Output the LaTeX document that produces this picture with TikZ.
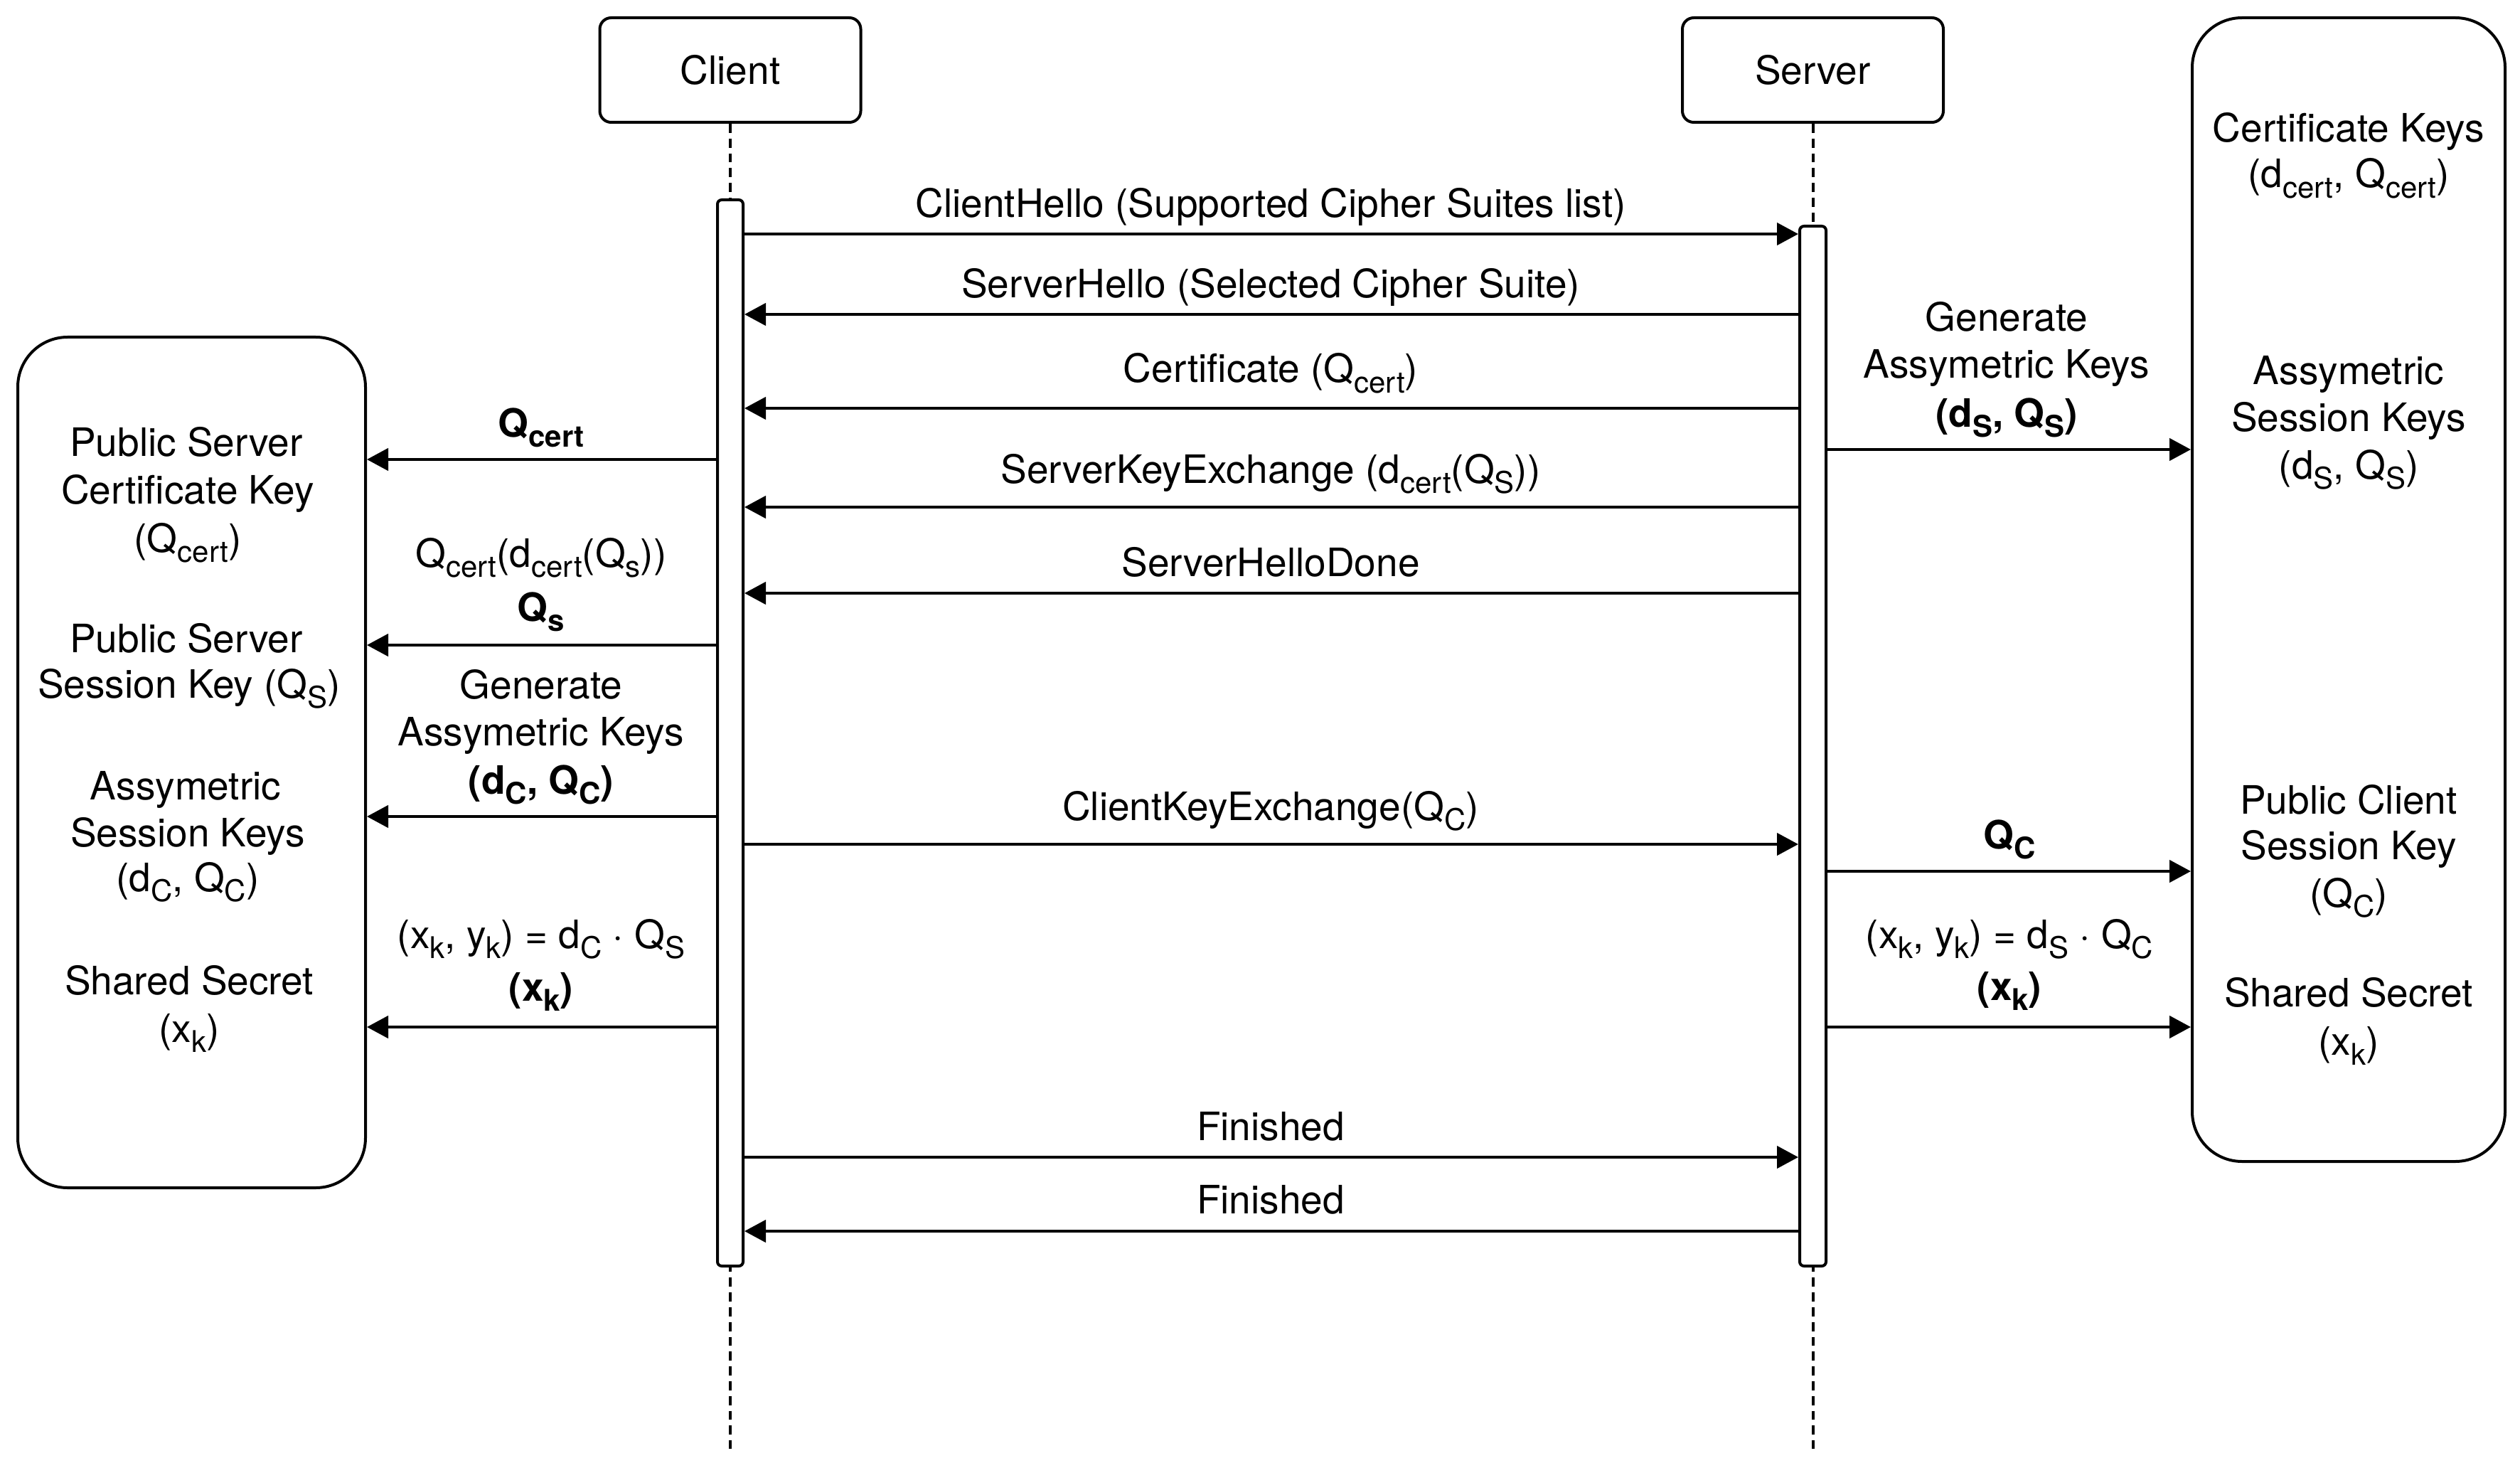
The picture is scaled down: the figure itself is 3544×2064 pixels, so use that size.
\documentclass[tikz,border=0pt]{standalone}
\usepackage{fontspec}
\setmainfont{TeX Gyre Heros}
\usetikzlibrary{arrows.meta}
\newcommand\sbs[1]{\raisebox{-0.27em}{\fontsize{10.5pt}{10.5pt}\selectfont #1}}
\begin{document}
\begin{tikzpicture}[x=0.25pt,y=-0.25pt, line width=1pt,
 every node/.style={font=\fontsize{13.75pt}{17pt}\selectfont},
 txt/.style={anchor=base, inner sep=0pt},
 bld/.style={txt, font=\fontsize{13.75pt}{17pt}\selectfont\bfseries},
 actor/.style={draw, rounded corners=4pt, minimum width=91.75pt, minimum height=36.75pt, inner sep=0pt},
 bar/.style={draw, fill=white, rounded corners=1.5pt, inner sep=0pt, minimum width=9pt},
 store/.style={draw, rounded corners=17.5pt, inner sep=0pt},
 life/.style={dash pattern=on 3.2pt off 2pt},
 msg/.style={-{Triangle[length=7.5pt,width=7.8pt]}},
]
\useasboundingbox (0,0) rectangle (3544,2064);

% actors
\node[actor] (client) at (1027,98.5) {Client};
\node[actor] (server) at (2549.5,98.5) {Server};
\coordinate (cend) at (1027,2037);
\coordinate (send) at (2549.5,2037);
\draw[life] (client.south) -- (cend);
\draw[life] (server.south) -- (send);

% activation bars
\node[bar, minimum height=374.75pt] (cbar) at (1027,1030.5) {};
\node[bar, minimum width=9.25pt, minimum height=365.5pt] (sbar) at (2549.5,1049) {};

% key stores
\node[store, minimum width=122.25pt, minimum height=299pt] (lbox) at (269.5,1072) {};
\node[store, minimum width=110pt, minimum height=402pt] (rbox) at (3303,829) {};

% message rows
\coordinate (m1) at (0,329);
\coordinate (m2) at (0,442);
\coordinate (m3) at (0,574);
\coordinate (m4) at (0,713);
\coordinate (m5) at (0,834);
\coordinate (m6) at (0,1187);
\coordinate (m7) at (0,1627);
\coordinate (m8) at (0,1731);
\draw[msg] (cbar.east |- m1) -- (sbar.west |- m1);
\draw[msg] (sbar.west |- m2) -- (cbar.east |- m2);
\draw[msg] (sbar.west |- m3) -- (cbar.east |- m3);
\draw[msg] (sbar.west |- m4) -- (cbar.east |- m4);
\draw[msg] (sbar.west |- m5) -- (cbar.east |- m5);
\draw[msg] (cbar.east |- m6) -- (sbar.west |- m6);
\draw[msg] (cbar.east |- m7) -- (sbar.west |- m7);
\draw[msg] (sbar.west |- m8) -- (cbar.east |- m8);

\node[txt] (t1) at (1787,306) {ClientHello (Supported Cipher Suites list)};
\node[txt] (t2) at (1787,419) {ServerHello (Selected Cipher Suite)};
\node[txt] (t3) at (1787,538) {Certificate (Q\sbs{cert})};
\node[txt] (t4) at (1787,679) {ServerKeyExchange (d\sbs{cert}(Q\sbs{S}))};
\node[txt] (t5) at (1787,810) {ServerHelloDone};
\node[txt] (t6) at (1787,1153) {ClientKeyExchange(Q\sbs{C})};
\node[txt] (t7) at (1787,1603) {Finished};
\node[txt] (t8) at (1787,1706) {Finished};

% client-side arrows
\coordinate (a1) at (0,646);
\coordinate (a2) at (0,907);
\coordinate (a3) at (0,1148);
\coordinate (a4) at (0,1444);
\draw[msg] (cbar.west |- a1) -- (lbox.east |- a1);
\draw[msg] (cbar.west |- a2) -- (lbox.east |- a2);
\draw[msg] (cbar.west |- a3) -- (lbox.east |- a3);
\draw[msg] (cbar.west |- a4) -- (lbox.east |- a4);

\node[bld] (la1) at (761,614) {Q\sbs{cert}};
\node[txt] (la2) at (761,797) {Q\sbs{cert}(d\sbs{cert}(Q\sbs{s}))};
\node[bld] (la3) at (761,873) {Q\sbs{s}};
\node[txt] (la4) at (761,982) {Generate};
\node[txt] (la5) at (761,1048) {Assymetric Keys};
\node[bld] (la6) at (761,1116) {(d\sbs{C}, Q\sbs{C})};
\node[txt] (la7) at (761,1333) {(x\sbs{k}, y\sbs{k}) = d\sbs{C} · Q\sbs{S}};
\node[bld] (la8) at (761,1407) {(x\sbs{k})};

% server-side arrows
\coordinate (b1) at (0,632);
\coordinate (b2) at (0,1225);
\coordinate (b3) at (0,1444);
\draw[msg] (sbar.east |- b1) -- (rbox.west |- b1);
\draw[msg] (sbar.east |- b2) -- (rbox.west |- b2);
\draw[msg] (sbar.east |- b3) -- (rbox.west |- b3);

\node[txt] (ra1) at (2822,466) {Generate};
\node[txt] (ra2) at (2822,532) {Assymetric Keys};
\node[bld] (ra3) at (2822,600) {(d\sbs{S}, Q\sbs{S})};
\node[bld] (ra4) at (2826,1193) {Q\sbs{C}};
\node[txt] (ra5) at (2826,1333) {(x\sbs{k}, y\sbs{k}) = d\sbs{S} · Q\sbs{C}};
\node[bld] (ra6) at (2826,1406) {(x\sbs{k})};

% left store text
\node[txt] (l1) at (262,642) {Public Server};
\node[txt] (l2) at (264,708) {Certificate Key};
\node[txt] (l3) at (264,776) {(Q\sbs{cert})};
\node[txt] (l4) at (262,917) {Public Server};
\node[txt] (l5) at (266,981) {Session Key (Q\sbs{S})};
\node[txt] (l6) at (261,1124) {Assymetric};
\node[txt] (l7) at (264,1190) {Session Keys};
\node[txt] (l8) at (264,1253) {(d\sbs{C}, Q\sbs{C})};
\node[txt] (l9) at (266,1398) {Shared Secret};
\node[txt] (l10) at (266,1465) {(x\sbs{k})};

% right store text
\node[txt] (r1) at (3303,200) {Certificate Keys};
\node[txt] (r2) at (3303,264) {(d\sbs{cert}, Q\sbs{cert})};
\node[txt] (r3) at (3303,541) {Assymetric};
\node[txt] (r4) at (3303,607) {Session Keys};
\node[txt] (r5) at (3303,673) {(d\sbs{S}, Q\sbs{S})};
\node[txt] (r6) at (3303,1144) {Public Client};
\node[txt] (r7) at (3303,1208) {Session Key};
\node[txt] (r8) at (3303,1275) {(Q\sbs{C})};
\node[txt] (r9) at (3303,1415) {Shared Secret};
\node[txt] (r10) at (3303,1483) {(x\sbs{k})};
\end{tikzpicture}
\end{document}
